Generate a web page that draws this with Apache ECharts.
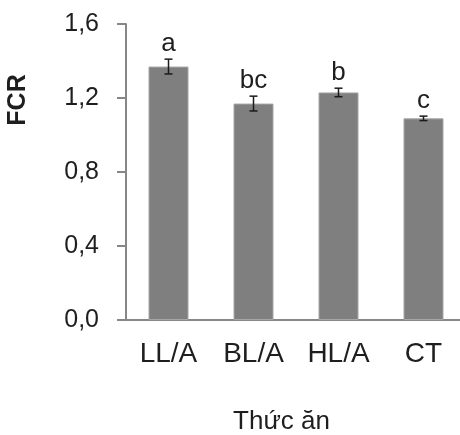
<!DOCTYPE html>
<html>
<head>
<meta charset="utf-8">
<script src="https://cdn.jsdelivr.net/npm/echarts@6/dist/echarts.min.js"></script>
<style>html,body{margin:0;padding:0;background:#fff}#c{width:460px;height:435px}</style>
</head>
<body>
<div id="c"></div>
<script>
var categories = ['LL/A', 'BL/A', 'HL/A', 'CT'];
var fcrValues = [1.37, 1.17, 1.23, 1.09];
var fcrErrors = [0.04, 0.04, 0.023, 0.012];
var groupLetters = ['a', 'bc', 'b', 'c'];
var yTicks = [0, 0.4, 0.8, 1.2, 1.6];

var FONT = '"Liberation Sans", Arial, sans-serif';
var TXT = '#1e1e1e';
var AXIS = '#878787';

var chart = echarts.init(document.getElementById('c'), null, {renderer: 'canvas'});
var errData = categories.map(function (c, i) {
  return [i, fcrValues[i], fcrErrors[i], groupLetters[i]];
});
chart.setOption({
  animation: false,
  backgroundColor: '#fff',
  grid: {left: 126, top: 24, bottom: 115, right: -6, containLabel: false, outerBoundsMode: 'none'},
  xAxis: {
    type: 'category',
    data: categories,
    boundaryGap: true,
    axisLine: {show: true, lineStyle: {color: AXIS, width: 2}},
    axisTick: {show: false},
    axisLabel: {color: TXT, fontFamily: FONT, fontSize: 28, margin: 20},
    name: 'Thức ăn',
    nameLocation: 'middle',
    nameGap: 89,
    nameTextStyle: {color: TXT, fontFamily: FONT, fontSize: 26, padding: [0, 29, 0, 0]}
  },
  yAxis: {
    type: 'value',
    min: yTicks[0],
    max: yTicks[yTicks.length - 1],
    interval: 0.4,
    axisLine: {show: true, lineStyle: {color: AXIS, width: 2}},
    axisTick: {show: true, inside: false, length: 9, lineStyle: {color: AXIS, width: 2}},
    splitLine: {show: false},
    axisLabel: {
      color: TXT, fontFamily: FONT, fontSize: 25, margin: 27,
      formatter: function (v) { return v.toFixed(1).replace('.', ','); }
    },
    name: 'FCR',
    nameLocation: 'middle',
    nameRotate: 90,
    nameGap: 95,
    nameTextStyle: {color: TXT, fontFamily: FONT, fontSize: 25, fontWeight: 'bold', padding: [0, 0, 0, 144]}
  },
  series: [
    {
      type: 'bar',
      data: fcrValues,
      barWidth: 40,
      itemStyle: {color: '#7f7f7f', borderColor: '#a6a6a6', borderWidth: 1}
    },
    {
      type: 'custom',
      data: errData,
      z: 10,
      renderItem: function (params, api) {
        var x = api.value(0), v = api.value(1), e = api.value(2);
        var top = api.coord([x, v + e]);
        var bot = api.coord([x, v - e]);
        var hw = 4;
        var style = {stroke: '#1a1a1a', lineWidth: 1.5};
        return {
          type: 'group',
          children: [
            {type: 'line', shape: {x1: top[0], y1: top[1], x2: bot[0], y2: bot[1]}, style: style},
            {type: 'line', shape: {x1: top[0] - hw, y1: top[1], x2: top[0] + hw, y2: top[1]}, style: style},
            {type: 'line', shape: {x1: bot[0] - hw, y1: bot[1], x2: bot[0] + hw, y2: bot[1]}, style: style},
            {type: 'text', style: {
              x: top[0], y: top[1] - 2, text: api.value(3),
              fill: TXT, font: '26px ' + FONT, align: 'center', verticalAlign: 'bottom'
            }}
          ]
        };
      }
    }
  ]
});
</script>
</body>
</html>
